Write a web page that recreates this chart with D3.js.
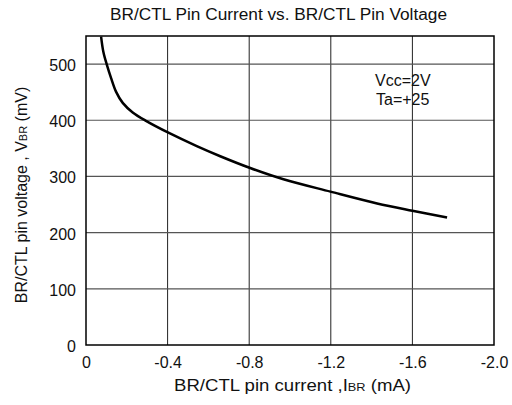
<!DOCTYPE html>
<html><head><meta charset="utf-8">
<script src="https://cdn.jsdelivr.net/npm/d3@7"></script>
<style>body{margin:0;background:#fff}svg{display:block}text{font-family:"Liberation Sans",Arial,sans-serif;fill:#111}</style>
</head><body><svg id="c" width="512" height="405"></svg>
<script>
const currentMA = [0.074,0.085,0.102,0.123,0.147,0.18,0.229,0.294,0.409,0.543,0.658,0.805,0.968,1.198,1.427,1.6,1.77];
const voltageMV = [549,522,499,475,451,431,414,399,377,354,336,315,295,273,252,239,227];
const xTicks = [0,0.4,0.8,1.2,1.6,2.0];
const xTickLabels = ["0","-0.4","-0.8","-1.2","-1.6","-2.0"];
const yTicks = [0,100,200,300,400,500];

const svg = d3.select("#c");
const m = {l:86, r:494, t:36, b:345};
const x = d3.scaleLinear().domain([0,2]).range([m.l,m.r]);
const y = d3.scaleLinear().domain([0,550]).range([m.b,m.t]);

// grid
svg.append("g").selectAll("line").data(xTicks.slice(1,-1)).join("line")
  .attr("x1",d=>x(d)).attr("x2",d=>x(d)).attr("y1",m.t).attr("y2",m.b)
  .attr("stroke","#222").attr("stroke-width",1);
svg.append("g").selectAll("line").data(yTicks.slice(1)).join("line")
  .attr("x1",m.l).attr("x2",m.r).attr("y1",d=>y(d)).attr("y2",d=>y(d))
  .attr("stroke","#555").attr("stroke-width",1.2);
svg.append("rect").attr("x",m.l).attr("y",m.t).attr("width",m.r-m.l).attr("height",m.b-m.t)
  .attr("fill","none").attr("stroke","#000").attr("stroke-width",1.5);

// axes labels via d3 axes
const xa = svg.append("g").attr("transform",`translate(0,${m.b})`)
  .call(d3.axisBottom(x).tickValues(xTicks).tickFormat((d,i)=>xTickLabels[i]).tickSize(0).tickPadding(12));
xa.select(".domain").remove();
xa.selectAll("text").attr("font-size",16).attr("font-family","Liberation Sans, Arial, sans-serif").attr("fill","#111");
const ya = svg.append("g").attr("transform",`translate(${m.l},0)`)
  .call(d3.axisLeft(y).tickValues(yTicks).tickSize(0).tickPadding(10));
ya.select(".domain").remove();
ya.selectAll("text").attr("font-size",16).attr("font-family","Liberation Sans, Arial, sans-serif").attr("fill","#111").attr("dy","0.4em");

// curve
const pts = currentMA.map((c,i)=>[c,voltageMV[i]]);
svg.append("path").datum(pts)
  .attr("d",d3.line().x(d=>x(d[0])).y(d=>y(Math.min(d[1],550))).curve(d3.curveCatmullRom.alpha(0.5)))
  .attr("fill","none").attr("stroke","#000").attr("stroke-width",2.5);

// title
svg.append("text").attr("x",278.5).attr("y",19.5).attr("text-anchor","middle").attr("font-size",16)
  .attr("textLength",337).attr("lengthAdjust","spacingAndGlyphs")
  .text("BR/CTL Pin Current  vs. BR/CTL Pin Voltage");
// x label
const xl = svg.append("text").attr("x",174).attr("y",391).attr("font-size",16)
  .attr("textLength",237).attr("lengthAdjust","spacingAndGlyphs");
xl.append("tspan").text("BR/CTL pin current ,I");
xl.append("tspan").attr("font-size",11).text("BR");
xl.append("tspan").text(" (mA)");
// y label
const yl = svg.append("text").attr("transform","translate(27,195) rotate(-90)").attr("text-anchor","middle").attr("font-size",16);
yl.append("tspan").text("BR/CTL pin voltage , V");
yl.append("tspan").attr("font-size",11).text("BR");
yl.append("tspan").text(" (mV)");
// annotation
svg.append("text").attr("x",375).attr("y",86).attr("font-size",16).text("Vcc=2V");
svg.append("text").attr("x",376).attr("y",105).attr("font-size",16).text("Ta=+25");
</script></body></html>
